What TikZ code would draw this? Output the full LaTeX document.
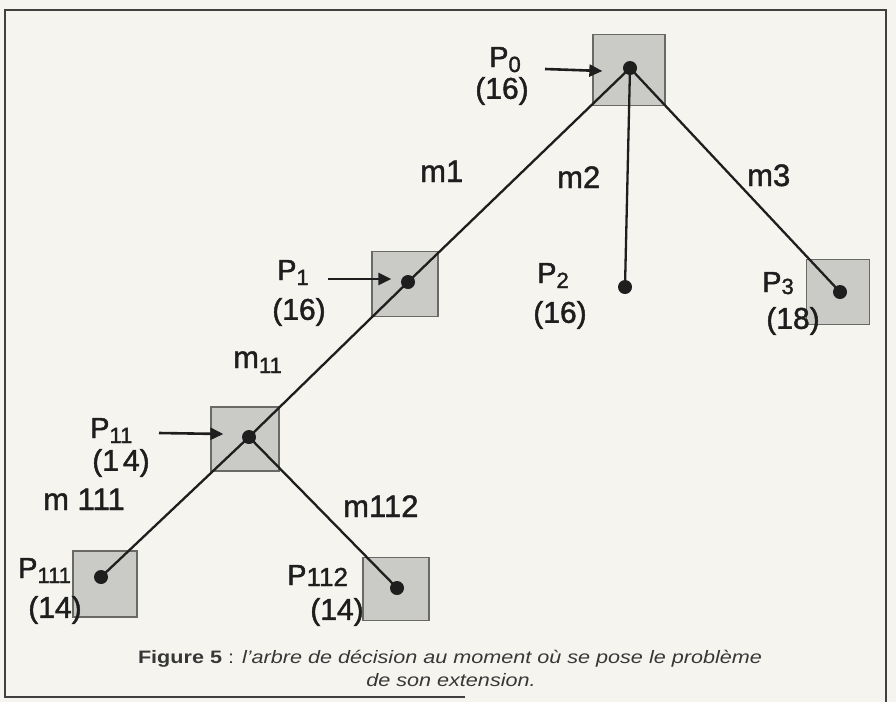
\documentclass[tikz,border=0pt]{standalone}
\usepackage{fontspec}
\setmainfont{Liberation Sans}
\newfontfamily\handfont[FakeBold=1.5]{Liberation Sans}
\usetikzlibrary{arrows.meta}
\definecolor{bgc}{RGB}{245,244,239}
\definecolor{sqfill}{RGB}{202,202,199}
\definecolor{sqline}{RGB}{105,105,102}
\definecolor{ink}{RGB}{30,30,30}
\definecolor{capink}{RGB}{55,55,55}
\newcommand\sbx[1]{\raisebox{-5pt}{\fontsize{22}{22}\selectfont #1}}
\begin{document}
\begin{tikzpicture}[x=1pt,y=-1pt,
  sq/.style={draw=sqline, line width=1.3pt, fill=sqfill, inner sep=0pt},
  dot/.style={circle, fill=ink, inner sep=0pt, minimum size=14pt},
  edge/.style={draw=ink, line width=2.3pt},
  ptr/.style={draw=ink, line width=2.6pt, -{Triangle[length=13pt,width=12pt]}},
  plab/.style={font=\handfont\fontsize{29}{31}\selectfont, text=ink, inner sep=0pt, anchor=base west},
  mlab/.style={font=\handfont\fontsize{31}{33}\selectfont, text=ink, inner sep=0pt, anchor=base west},
  vlab/.style={font=\handfont\fontsize{30}{32}\selectfont, text=ink, inner sep=0pt},
  captext/.style={font=\fontsize{18}{20}\selectfont, text=capink, inner sep=0pt},
  frameline/.style={draw=ink!85, line width=1.8pt}]
\fill[bgc] (0,0) rectangle (896,702);
\useasboundingbox (0,0) rectangle (896,702);
% frame
\draw[frameline] (465,697) -- (5,697) -- (5,10) -- (886,10) -- (886,702);
% squares
\node[sq, minimum width=72pt, minimum height=71pt] (s0) at (629,70) {};
\node[sq, minimum width=66pt, minimum height=65pt] (s1) at (405,284) {};
\node[sq, minimum width=68pt, minimum height=64pt] (s11) at (245,439) {};
\node[sq, minimum width=64pt, minimum height=66pt] (s111) at (105,584) {};
\node[sq, minimum width=66pt, minimum height=63pt] (s112) at (396,589) {};
\node[sq, minimum width=63pt, minimum height=65pt] (s3) at (838,292) {};
% dots
\node[dot] (d0) at (630,68) {};
\node[dot] (d1) at (408,282) {};
\node[dot] (d2) at (625,287) {};
\node[dot] (d3) at (840,292) {};
\node[dot] (d11) at (249,437) {};
\node[dot] (d111) at (101,577) {};
\node[dot] (d112) at (397,588) {};
% edges
\draw[edge] (d0.center) -- (d1.center);
\draw[edge] (d0.center) -- (d2.center);
\draw[edge] (d0.center) -- (d3.center);
\draw[edge] (d1.center) -- (d11.center);
\draw[edge] (d11.center) -- (d111.center);
\draw[edge] (d11.center) -- (d112.center);
% pointer arrows
\coordinate (a0) at (545,69);
\coordinate (a1) at (328,279);
\coordinate (a11) at (159,433);
\draw[ptr] (a0) -- ([xshift=10pt,yshift=-1pt]s0.west);
\draw[ptr] (a1) -- ([xshift=20pt,yshift=5pt]s1.west);
\draw[ptr] (a11) -- ([xshift=13pt,yshift=5pt]s11.west);
% node labels
\node[plab] (l0) at (489,67) {P\sbx{0}};
\node[vlab] (v0) at (502,91) {(16)};
\node[plab] (l1) at (277,280) {P\sbx{1}};
\node[vlab] (v1) at (299,312) {(16)};
\node[plab] (l2) at (537,283) {P\sbx{2}};
\node[vlab] (v2) at (560,315) {(16)};
\node[plab] (l3) at (762,292) {P\raisebox{-2pt}{\fontsize{22}{22}\selectfont 3}};
\node[vlab] (v3) at (793,321) {(18)};
\node[plab] (l11) at (90,438) {P\sbx{11}};
\node[vlab] (v11) at (121,463) {(1\kern4pt 4)};
\node[plab] (l111) at (18,578) {P\sbx{111}};
\node[vlab] (v111) at (55,610) {(14)};
\node[plab] (l112) at (287,585) {P\raisebox{-1pt}{\fontsize{26}{26}\selectfont 112}};
\node[vlab] (v112) at (337,612) {(14)};
% edge labels
\node[mlab] (m1) at (420,182) {m1};
\node[mlab] (m2) at (557,188) {m2};
\node[mlab] (m3) at (747,186) {m3};
\node[mlab] (m11) at (233,368) {m\sbx{11}};
\node[mlab] (m111) at (43,510) {m 111};
\node[mlab] (m112) at (343,517) {m112};
% caption
\node[captext] (c1) at (450,659) {\scalebox{1.2}[1]{\textbf{Figure 5} : \textit{l’arbre de décision au moment où se pose le problème}}};
\node[captext] (c2) at (451,680) {\scalebox{1.2}[1]{\textit{de son extension.}}};
\end{tikzpicture}
\end{document}
